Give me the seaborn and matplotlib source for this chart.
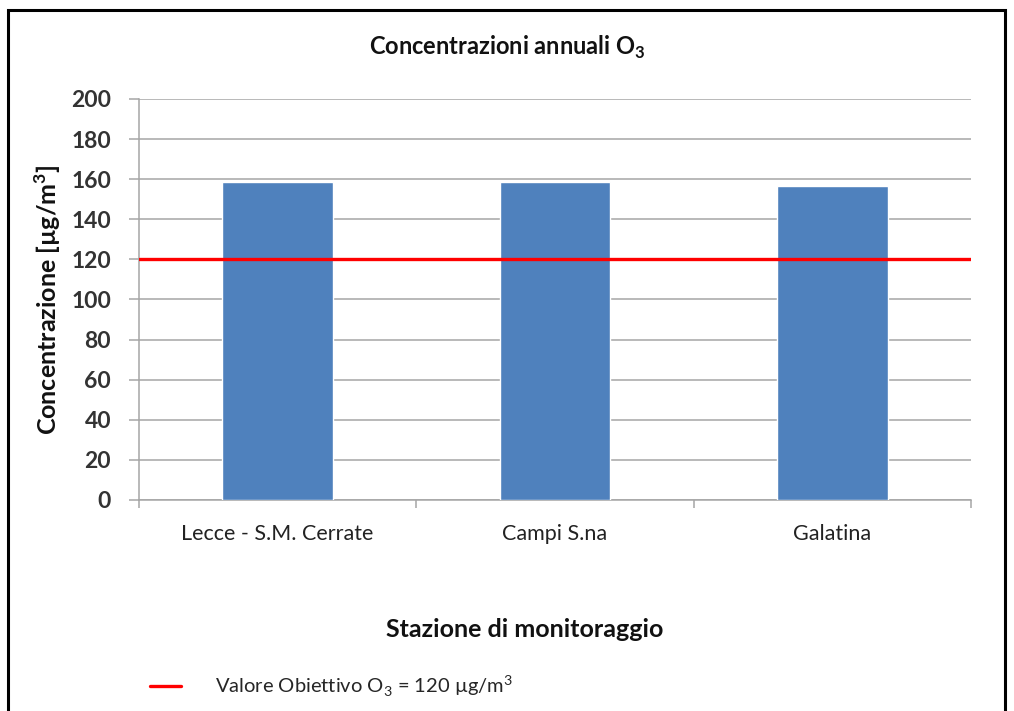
import matplotlib
matplotlib.use("Agg")
import matplotlib.pyplot as plt
import seaborn as sns
import pandas as pd
from matplotlib.patches import Rectangle

# Stations and annual O3 concentrations
stations = ["Lecce - S.M. Cerrate", "Campi S.na", "Galatina"]
concentrations = [158.6, 158.6, 156.8]
target_value = 120
y_ticks = [0, 20, 40, 60, 80, 100, 120, 140, 160, 180, 200]

sns.set_theme(style="white")
plt.rcParams["font.family"] = ["Lato", "DejaVu Sans"]
plt.rcParams["mathtext.fontset"] = "custom"
plt.rcParams["mathtext.rm"] = "Lato"
plt.rcParams["mathtext.bf"] = "Lato:bold"

df = pd.DataFrame({"Stazione": stations, "Concentrazione": concentrations})

fig = plt.figure(figsize=(10.14, 7.11), dpi=100)
ax = fig.add_axes([0.1371, 0.2968, 0.8205, 0.564])

sns.barplot(data=df, x="Stazione", y="Concentrazione", color="#4F81BD",
            saturation=1, width=0.40, ax=ax, zorder=3)

target_line = ax.axhline(target_value, color="#FF0000", lw=2.4, zorder=4,
                         label=r"Valore Obiettivo O$_3$ = 120 µg/m$^3$")

ax.set_xlim(-0.5, 2.5)
ax.set_ylim(0, 200)
ax.set_yticks(y_ticks)
ax.grid(axis="y", color="#a6a6a6", lw=1.1, zorder=0)
ax.set_axisbelow(True)

for side in ["top", "right"]:
    ax.spines[side].set_visible(False)
for side in ["left", "bottom"]:
    ax.spines[side].set_color("#a6a6a6")
    ax.spines[side].set_linewidth(1.1)

ax.tick_params(axis="y", which="major", left=True, length=7, width=1.1,
               color="#a6a6a6", labelsize=16.5, pad=13)
for lbl in ax.get_yticklabels():
    lbl.set_fontweight("bold")
    lbl.set_color("#333333")
ax.tick_params(axis="x", which="major", bottom=False, labelsize=15.5, pad=11,
               labelcolor="#222222")
ax.set_xticks([-0.5, 0.5, 1.5, 2.5], minor=True)
ax.tick_params(axis="x", which="minor", bottom=True, length=6, width=1.1,
               color="#a6a6a6")

ax.set_xlabel("")
ax.set_ylabel(r"Concentrazione [µg/m$^\mathbf{3}$]", fontsize=18,
              fontweight="bold", labelpad=6, color="#111111")

fig.text(0.5, 0.934, r"Concentrazioni annuali O$_\mathbf{3}$", fontsize=17,
         fontweight="bold", color="#111111", ha="center", va="center")
fig.text(0.517, 0.114, "Stazione di monitoraggio", fontsize=18,
         fontweight="bold", color="#111111", ha="center", va="center")

fig.legend(handles=[target_line], loc="lower left",
           bbox_to_anchor=(0.130, -0.008), frameon=False, fontsize=14.5,
           handlelength=1.55, handletextpad=1.7)

fig.patches.append(Rectangle((0.008, -0.05), 0.983, 1.036,
                             transform=fig.transFigure, fill=False,
                             edgecolor="black", lw=2.2))

fig.savefig("out.png", dpi=100)
